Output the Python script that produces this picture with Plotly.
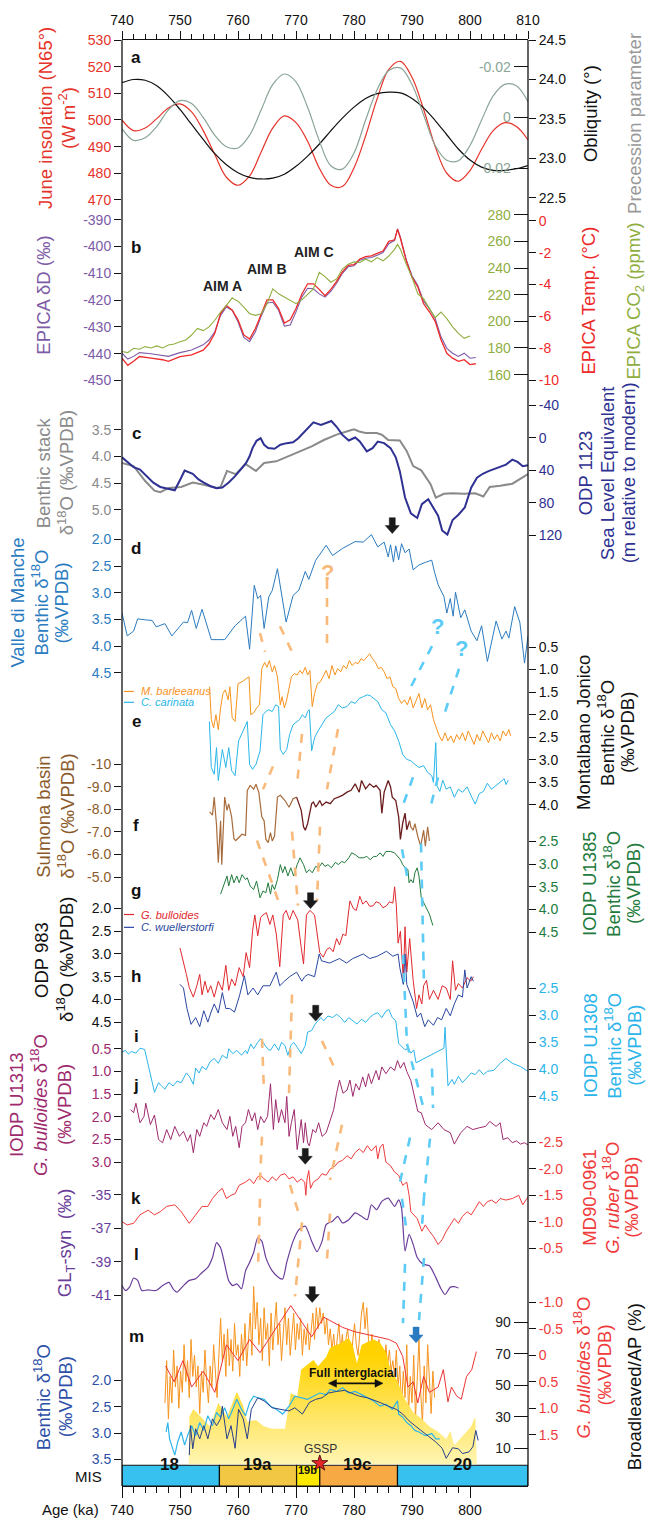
import plotly.graph_objects as go

# ---------------- data (age in ka) ----------------
# a: orbital parameters
ORB_AGE = [740, 742, 744, 746, 748, 750, 752, 754, 756, 758, 760, 762, 764, 766, 768, 770, 772, 774,
           776, 778, 780, 782, 784, 786, 788, 790, 792, 794, 796, 798, 800, 802, 804, 806, 808, 810]
INSOLATION = [500, 496, 497, 500.5, 504.5, 506, 503, 496, 487, 478.5, 475.5, 479, 488, 497, 501.5, 499, 492, 482,
              475.5, 475, 482, 494, 508, 519, 522, 516, 504, 490, 480, 477, 481, 489, 496, 499, 497.5, 492.5]
PRECESSION = [0.0044, 0.0090, 0.0080, 0.0035, -0.0030, -0.0066, -0.0055, 0.0000, 0.0070, 0.0115, 0.0120, 0.0070,
              -0.0030, -0.0130, -0.0171, -0.0140, -0.0040, 0.0090, 0.0190, 0.0203, 0.0140, 0.0010, -0.0110, -0.0185,
              -0.0195, -0.0130, -0.0010, 0.0110, 0.0168, 0.0170, 0.0110, 0.0010, -0.0085, -0.0130, -0.0125, -0.0062]
OBLIQUITY = [23.96, 24.00, 23.99, 23.92, 23.79, 23.62, 23.43, 23.24, 23.06, 22.92, 22.82, 22.76, 22.74, 22.75,
             22.80, 22.90, 23.03, 23.18, 23.35, 23.51, 23.65, 23.76, 23.82, 23.84, 23.83, 23.76, 23.64, 23.48,
             23.30, 23.12, 22.98, 22.89, 22.85, 22.85, 22.87, 22.91]

# b: EPICA (age, dD, temperature)
EPICA = [(740, -439.8, -8.6), (741, -442, -9.05), (742, -441, -8.8), (743, -439.6, -8.5), (745, -440, -8.6),
         (747, -440.8, -8.7), (748, -441, -8.8), (750, -439.6, -8.5), (752, -438.6, -8.4), (754, -436.7, -8.1),
         (755, -434.9, -7.7), (756, -431.8, -7.05), (757, -425.7, -5.8), (758, -422.6, -5.3), (759, -423.8, -5.6),
         (760, -428.1, -6.2), (761, -433.9, -7.15), (762, -435.5, -7.4), (763, -431.8, -6.75), (764, -426, -5.8),
         (765, -421.1, -4.95), (766, -420.8, -4.95), (767, -423.8, -5.5), (768, -429.7, -6.4), (769, -429.3, -6.2),
         (770, -424.4, -5.5), (771, -418.9, -4.6), (772, -415.6, -3.95), (773, -415.8, -3.95), (774, -417.7, -4.3),
         (775, -418.9, -4.7), (776, -416.8, -4.3), (777, -413.7, -3.8), (778, -410, -3.2), (779, -407.6, -2.8),
         (780, -407.2, -2.75), (781, -405.1, -2.4), (782, -404.4, -2.25), (783, -404.1, -2.2), (784, -403.3, -2.05),
         (785, -402.3, -1.9), (786, -399, -1.3), (787, -397.7, -1.2), (787.5, -393.4, -0.55), (788, -396.5, -1.1),
         (789, -404.8, -2.5), (790, -410.9, -3.55), (791, -414.6, -4.15), (792, -420.4, -5.2), (793, -423.2, -5.7),
         (794, -426.9, -6.3), (795, -433.7, -7.45), (796, -438, -8.3), (797, -439.8, -8.6), (798, -441, -8.8),
         (799, -439.8, -8.7), (800, -441.7, -9.0), (801, -441.4, -8.95)]
EPICA_CO2 = [(740, 177.3), (741, 176.5), (742, 179.8), (743, 179), (744, 181), (745, 180), (746, 181.5), (747, 180),
             (748, 182.2), (749, 183), (750, 184.7), (751, 186), (752, 189.7), (753, 194.6), (754, 193), (755, 195.8),
             (756, 200.8), (757, 207), (758, 212), (759, 217.6), (759.5, 216.1), (760, 215.1), (761, 210.7),
             (762, 205.7), (763, 204.5), (764, 205.7), (765, 213.2), (766, 224.3), (767, 220.6), (768, 218.1),
             (769, 215.6), (770, 213.2), (771, 216.1), (772, 220.6), (773, 224.3), (774, 236.7), (775, 233.5),
             (776, 229.3), (777, 231.8), (778, 239.2), (779, 242.9), (780, 244.6), (781, 244.1), (782, 246.6),
             (783, 244.6), (784, 247.8), (785, 245.4), (786, 249), (787, 254), (787.5, 257.7), (788, 254),
             (789, 242.9), (790, 233), (791, 220.6), (792, 217), (793, 209.5), (794, 202.8), (795, 207),
             (796, 202), (797, 195.8), (798, 190.9), (799, 187.2), (800, 188.9)]

# c: benthic stack and ODP 1123 sea level
STACK = [(740, 4.12), (742, 4.18), (744, 4.46), (745.6, 4.64), (746.6, 4.67), (748.1, 4.59), (750.2, 4.57),
         (752.2, 4.49), (754.1, 4.53), (756.3, 4.59), (757, 4.57), (758.1, 4.27), (759.6, 4.33), (761.3, 4.14),
         (763.1, 4.27), (764.5, 4.12), (766.6, 4.09), (768.8, 3.99), (770.8, 3.90), (772.7, 3.81), (774.8, 3.69),
         (777, 3.59), (779, 3.52), (780, 3.49), (780.9, 3.53), (782, 3.56), (783.9, 3.56), (784.8, 3.59),
         (785.9, 3.69), (787.9, 3.70), (789.1, 3.90), (790.2, 4.18), (791.6, 4.26), (793.2, 4.52), (794.1, 4.77),
         (795.5, 4.70), (797, 4.69), (798.9, 4.70), (800.9, 4.69), (802.3, 4.75), (803.4, 4.57), (805.2, 4.55),
         (807.3, 4.51), (810, 4.33)]
ODP1123 = [(740, 24), (741.1, 30.9), (742, 36.1), (743.1, 39), (744.1, 45.9), (745.4, 55.2), (746.6, 60.4),
           (748.1, 63.3), (749.1, 64.5), (750.2, 49.1), (750.8, 40.2), (752.2, 44.2), (753.2, 51.1), (754.1, 55),
           (755.2, 59.2), (756.3, 62), (757.3, 61), (758.4, 55), (759.5, 47.1), (760.6, 37.8), (761.4, 30.9),
           (762, 22.8), (762.5, 12.7), (763.2, 3.7), (763.9, 0.5), (764.5, 8.6), (765.2, 12.7), (766.3, 13.5),
           (767.3, 8.6), (768.4, 6.6), (769.5, 5.5), (770.4, 0.5), (771.5, -7.6), (772.2, -13.7), (773, -18.9),
           (774.3, -15.7), (775.2, -17.7), (776.1, -20.6), (777, -13.5), (778, -3.5), (779.1, 3.3), (780.2, -0.3),
           (781, 4.6), (782.2, 16.7), (783.2, 12.7), (784.1, 4.6), (785.2, 6.6), (786.3, 12.7), (787.2, 24),
           (787.9, 41), (788.8, 73.4), (789.8, 92.8), (790.9, 98.5), (791.7, 81.5), (792.8, 75.4), (793.7, 85.6),
           (794.5, 95.7), (795.2, 113.9), (796.1, 118.8), (797, 101), (798, 94.5), (799.1, 85.6), (800.2, 61.3),
           (801.2, 49.1), (802.2, 44.2), (803.2, 41), (804.3, 38.2), (805.3, 36.1), (806.2, 32.9), (807.3, 26.8),
           (808.2, 29.6), (809.1, 35), (810, 33.7)]

# d: Valle di Manche benthic d18O
VDM = [(740, 3.38), (740.9, 3.81), (742, 3.72), (742.7, 3.49), (744.1, 3.51), (745.2, 3.52), (745.9, 3.64),
       (747.4, 3.58), (748.6, 3.81), (750.6, 3.55), (751.3, 3.56), (752, 3.33), (752.8, 3.67), (753.8, 3.31),
       (755.4, 3.88), (757.7, 3.88), (759.5, 3.62), (761.3, 3.44), (762, 4.06), (762.8, 2.86), (763.4, 3.11),
       (763.9, 3.05), (764.5, 3.67), (765.3, 3.08), (765.9, 2.96), (766.8, 2.55), (768.3, 3.55), (769.5, 3.05),
       (770.5, 2.95), (771.6, 2.6), (772.2, 2.75), (773.4, 2.39), (775.2, 2.11), (776.3, 2.30), (778, 2.17),
       (780.2, 2.04), (781.6, 2.05), (783, 1.91), (784.1, 2.14), (785.2, 2.05), (785.9, 2.33), (786.3, 2.1),
       (786.8, 2.42), (787.2, 2.12), (787.7, 2.38), (788.2, 2.08), (788.8, 2.25), (789.5, 2.18), (790.2, 2.57),
       (791.2, 2.48), (792.3, 2.43), (793.4, 2.39), (793.9, 2.62), (794.5, 2.85), (795.5, 3.07), (796, 3.38),
       (796.6, 3.11), (797.1, 3.44), (797.5, 2.99), (798.4, 3.47), (799.1, 3.32), (800.2, 3.72), (801.2, 3.9),
       (802, 3.62), (803, 4.29), (804.5, 3.53), (805.5, 3.87), (806.2, 3.72), (806.7, 3.85), (807.7, 3.26),
       (808.6, 3.56), (809.4, 4.32), (810, 3.81)]

# e: Montalbano Jonico benthic d18O
MJ_BARLEEANUS = [(755.1, 1.38), (755.4, 2.11), (755.8, 2.29), (756.2, 2.0), (756.6, 2.33), (757.0, 1.85),
                 (757.4, 1.53), (757.8, 1.45), (758.3, 1.67), (758.6, 1.38), (759.0, 2.07), (759.5, 2.15),
                 (760.0, 1.31), (760.7, 1.27), (761.4, 1.2), (761.9, 1.16), (762.2, 2.0), (762.7, 1.96),
                 (763.2, 1.85), (763.7, 1.78), (764.1, 0.98), (764.6, 0.84), (765.0, 0.95), (765.4, 0.8),
                 (765.9, 1.05), (766.3, 0.91), (766.8, 1.16), (767.3, 1.78), (767.6, 1.6), (768.0, 1.85),
                 (768.4, 1.67), (768.9, 1.34), (769.2, 1.16), (769.7, 1.09), (770.2, 1.12), (770.7, 1.02),
                 (771.1, 1.09), (771.6, 0.95), (772.0, 1.12), (772.4, 1.02), (772.8, 1.82), (773.2, 1.53),
                 (773.7, 1.31), (774.2, 1.27), (774.7, 1.16), (775.2, 1.02), (775.7, 1.2), (776.2, 0.91),
                 (776.7, 1.12), (777.2, 0.98), (777.7, 1.05), (778.2, 0.91), (778.7, 0.98), (779.2, 0.8),
                 (779.7, 0.91), (780.2, 0.84), (780.7, 0.87), (781.2, 0.76), (781.7, 0.8), (782.2, 0.73),
                 (782.7, 0.65), (783.2, 0.76), (783.7, 0.84), (784.2, 0.98), (784.7, 0.95), (785.2, 1.05),
                 (785.7, 1.2), (786.2, 1.16), (786.7, 1.38), (787.2, 1.42), (787.7, 1.64), (788.2, 1.75),
                 (788.7, 1.67), (789.2, 1.78), (789.7, 1.6), (790.2, 1.85), (790.7, 1.67), (791.2, 1.53),
                 (791.7, 1.85), (792.2, 1.64), (792.7, 1.89), (793.2, 1.78), (793.7, 2.11), (794.2, 2.29),
                 (794.7, 2.47), (795.2, 2.58), (795.7, 2.4), (796.2, 2.58), (796.7, 2.47), (797.2, 2.62),
                 (797.7, 2.44), (798.2, 2.55), (798.7, 2.4), (799.2, 2.58), (799.7, 2.36), (800.2, 2.51),
                 (800.7, 2.66), (801.2, 2.44), (801.7, 2.58), (802.2, 2.36), (802.7, 2.51), (803.2, 2.62),
                 (803.7, 2.4), (804.2, 2.55), (804.7, 2.44), (805.2, 2.58), (805.7, 2.36), (806.2, 2.47),
                 (806.7, 2.33), (807.0, 2.47)]
MJ_CARINATA = [(755.06, 2.15), (755.4, 3.17), (755.9, 3.32), (756.3, 2.73), (756.6, 3.46), (757.3, 2.77),
               (757.9, 3.17), (758.4, 2.73), (758.9, 3.24), (759.5, 3.35), (760.1, 2.58), (760.6, 2.44),
               (761.3, 2.22), (761.6, 2.15), (762, 3.1), (762.5, 3.21), (763.1, 3.1), (763.8, 2.8), (764.3, 2.0),
               (764.8, 1.93), (765.3, 1.89), (765.9, 1.93), (766.5, 1.78), (767, 1.82), (767.3, 2.77),
               (767.8, 2.88), (768.4, 2.77), (768.9, 2.44), (769.5, 2.22), (770.1, 2.15), (770.6, 2.11),
               (771.1, 2.0), (771.6, 2.07), (772, 1.93), (772.3, 1.89), (772.7, 2.8), (773.2, 2.51),
               (773.8, 2.36), (774.5, 2.22), (775.2, 2.07), (775.9, 2.0), (776.6, 1.93), (777.3, 1.78),
               (778, 1.85), (778.8, 1.82), (779.5, 1.71), (780.2, 1.75), (780.9, 1.64), (781.6, 1.6),
               (782.3, 1.56), (782.8, 1.58), (783.4, 1.64), (784.1, 1.71), (784.8, 1.89), (785.5, 1.96),
               (786.3, 2.22), (787, 2.36), (787.7, 2.58), (788.4, 2.88), (789.1, 2.99), (789.8, 3.02),
               (790.5, 3.1), (791.2, 3.17), (792, 3.13), (792.7, 3.28), (793.4, 3.35), (793.7, 3.5),
               (794.1, 2.62), (794.3, 3.57), (794.8, 3.7), (795.3, 3.45), (795.9, 3.65), (796.6, 3.6),
               (797.3, 3.83), (798, 3.65), (798.7, 3.72), (799.5, 3.6), (800.2, 3.8), (800.9, 3.98),
               (801.6, 3.75), (802.3, 3.7), (803, 3.52), (803.7, 3.65), (804.5, 3.57), (805.2, 3.5),
               (805.9, 3.42), (806.2, 3.55), (806.6, 3.45)]

# f: Sulmona basin d18O (three sections)
SULMONA_1 = [(755.1, -7.89), (755.6, -7.75), (755.9, -8.55), (756.3, -7.3), (756.6, -5.63), (757.0, -7.5),
             (757.2, -5.55), (757.7, -8.55), (758.1, -7.96), (758.4, -8.25), (758.9, -7.67), (759.3, -6.7),
             (759.6, -6.62), (760.2, -6.77), (760.7, -6.9), (761.3, -6.85), (761.6, -8.85), (762.1, -9.07),
             (762.7, -8.9), (763.1, -9.12), (763.6, -8.75), (764.1, -7.67), (764.5, -7.5), (764.8, -6.68),
             (765.2, -6.53), (765.6, -6.97), (765.9, -6.6), (766.3, -6.82), (766.8, -8.55), (767.3, -8.63),
             (768.1, -8.4), (768.8, -8.1), (769.5, -8.48), (770.1, -8.55)]
SULMONA_2 = [(770.1, -8.55), (770.5, -8.26), (770.9, -7.96), (771.3, -7.23), (771.6, -7.08), (772.0, -7.37),
             (772.3, -7.81), (772.7, -8.26), (773.0, -8.33), (773.4, -8.11), (773.8, -8.26), (774.1, -8.4),
             (774.5, -8.18), (775.2, -8.33), (775.9, -8.26), (776.6, -8.48), (777.3, -8.55), (778.0, -8.63),
             (778.8, -8.77), (779.5, -8.85), (780.2, -9.14), (780.9, -8.77), (781.3, -9.29), (782.0, -8.92),
             (782.7, -9.14), (783.4, -8.99), (783.8, -9.07), (784.5, -8.85), (784.8, -7.83), (785.2, -8.77),
             (785.9, -9.29), (786.3, -9.0), (786.6, -8.55), (787.2, -8.4), (787.7, -7.67), (788.0, -6.67),
             (788.4, -7.4), (788.8, -7.84), (789.1, -7.1), (789.6, -7.5)]
SULMONA_3 = [(789.6, -7.5), (789.8, -7.22), (790.2, -7.08), (790.5, -7.37), (791.0, -6.8), (791.5, -6.37),
             (792.0, -7.08), (792.3, -6.37), (792.7, -7.23), (793.0, -6.6)]

# g: IODP U1385 benthic d18O
U1385 = [(757.0, 3.66), (757.7, 3.41), (758.1, 3.26), (758.4, 3.48), (758.9, 3.23), (759.3, 3.41), (759.8, 3.26),
         (760.2, 3.41), (760.7, 3.23), (761.3, 3.34), (761.6, 3.3), (762.1, 3.48), (762.7, 3.56), (763.2, 3.37),
         (763.8, 3.74), (764.3, 3.59), (764.8, 3.63), (765.2, 3.41), (765.6, 3.66), (765.9, 3.45), (766.3, 3.56),
         (766.8, 3.34), (767.3, 3.01), (767.7, 3.19), (768.1, 3.05), (768.6, 3.26), (769.1, 3.08), (769.6, 3.26),
         (770.2, 3.01), (770.7, 2.86), (771.3, 3.01), (771.8, 3.19), (772.3, 3.12), (772.8, 3.19), (773.4, 3.05),
         (773.9, 3.08), (774.5, 2.97), (775.0, 3.05), (775.5, 3.01), (776.1, 3.08), (776.8, 2.96), (777.3, 3.01),
         (777.9, 2.94), (778.4, 2.97), (779.1, 2.86), (779.6, 2.75), (780.2, 2.79), (780.9, 2.86), (781.6, 2.86),
         (782.2, 2.83), (782.8, 2.9), (783.4, 2.83), (783.9, 2.83), (784.5, 2.75), (785.0, 2.83), (785.5, 2.72),
         (786.3, 2.72), (787.0, 2.75), (787.5, 2.83), (788.0, 2.9), (788.4, 3.01), (788.8, 3.08), (789.3, 3.12),
         (789.5, 3.41), (789.8, 3.34), (790.2, 3.41), (790.5, 3.19), (790.9, 3.08), (791.2, 3.26), (791.6, 3.74),
         (792.3, 3.92), (793.0, 4.1), (793.6, 4.35)]

# h: ODP 983 d18O
ODP983_BULLOIDES = [(750.0, 2.87), (750.6, 3.16), (751.1, 3.45), (751.6, 3.74), (752.3, 3.95), (752.9, 3.7),
                    (753.4, 3.45), (753.8, 3.9), (754.3, 3.6), (754.8, 3.85), (755.3, 3.7), (755.9, 3.95),
                    (756.6, 3.6), (757.3, 3.8), (757.9, 3.25), (758.4, 3.8), (758.9, 3.55), (759.5, 3.7),
                    (760.2, 3.3), (760.9, 3.5), (761.4, 2.97), (762.0, 3.3), (762.5, 2.5), (762.9, 2.14),
                    (763.4, 2.6), (763.9, 2.2), (764.3, 2.14), (764.9, 2.09), (765.5, 2.35), (766.0, 2.14),
                    (766.6, 2.56), (767.2, 3.28), (767.8, 2.14), (768.3, 2.04), (768.9, 2.25), (769.5, 2.04),
                    (770.3, 2.25), (770.9, 2.86), (771.3, 3.22), (771.8, 2.14), (772.4, 2.04), (773.2, 2.14),
                    (773.6, 2.56), (774.1, 2.97), (774.7, 3.07), (775.3, 2.9), (775.8, 2.86), (776.4, 2.95),
                    (777.0, 2.66), (777.5, 2.8), (778.1, 2.56), (778.6, 2.6), (779.0, 2.14), (779.3, 1.83),
                    (779.9, 2.0), (780.4, 2.04), (781.0, 1.73), (781.5, 1.9), (782.1, 1.83), (782.7, 1.95),
                    (783.3, 1.94), (783.8, 1.85), (784.4, 1.88), (785.0, 1.98), (785.6, 1.94), (786.1, 1.85),
                    (786.7, 1.88), (787.0, 1.52), (787.3, 1.94), (787.6, 2.76), (788.0, 2.5), (788.5, 3.58),
                    (788.8, 2.4), (789.1, 3.4), (789.6, 2.66), (790.2, 3.58), (790.8, 4.2), (791.2, 3.9),
                    (791.7, 4.1), (792.0, 3.7), (792.5, 3.58), (793.0, 4.0), (793.7, 3.8), (794.5, 4.0),
                    (795.2, 3.7), (795.9, 3.75), (796.6, 4.0), (797.0, 3.15), (797.5, 3.8), (798.0, 3.65),
                    (798.7, 3.75), (799.5, 3.52), (800.1, 3.6), (800.6, 3.5)]
ODP983_WUELLERSTORFI = [(750.0, 3.67), (750.6, 3.75), (751.2, 4.2), (751.9, 4.55), (752.7, 4.4), (753.4, 4.6),
                        (754.1, 4.25), (754.8, 4.5), (755.3, 4.3), (755.9, 4.1), (756.6, 4.3), (757.3, 3.85),
                        (757.9, 4.2), (758.55, 4.2), (759.4, 4.28), (760.3, 3.9), (761.1, 3.48), (761.7, 3.9),
                        (762.6, 3.75), (763.4, 3.9), (764.3, 3.7), (765.5, 3.7), (766.6, 3.4), (767.2, 3.7),
                        (768.0, 3.6), (768.9, 3.5), (770.1, 3.4), (771.0, 3.6), (771.5, 3.5), (772.1, 3.45),
                        (773.2, 3.5), (774.0, 3.0), (774.4, 3.15), (775.8, 3.2), (777.5, 3.1), (778.7, 3.2),
                        (779.8, 3.1), (781.6, 3.0), (782.7, 3.1), (784.0, 3.05), (785.6, 2.94), (786.7, 3.05),
                        (787.6, 3.0), (787.9, 3.3), (788.5, 3.67), (788.8, 3.0), (789.1, 3.67), (789.6, 3.85),
                        (790.2, 4.05), (790.9, 4.39), (791.5, 4.3), (792.2, 4.6), (792.8, 4.45), (793.7, 4.57),
                        (794.4, 4.4), (795.1, 4.45), (795.9, 4.2), (796.6, 4.36), (797.3, 4.1), (798.0, 3.9),
                        (798.7, 3.95), (799.1, 3.35), (799.5, 3.75), (800.2, 3.5), (800.6, 3.6)]

# i: IODP U1308 benthic d18O
U1308 = [(740.0, 3.68), (740.6, 3.65), (741.1, 3.72), (741.6, 3.67), (742.4, 3.70), (743.1, 3.61), (743.9, 3.63),
         (744.5, 3.94), (745.2, 4.24), (745.6, 4.43), (746.3, 4.25), (746.8, 4.31), (747.4, 4.37), (748.1, 4.25),
         (748.8, 4.31), (749.5, 4.22), (750.2, 4.25), (751.1, 4.07), (751.6, 4.13), (752.3, 4.28), (752.7, 3.98),
         (753.3, 4.07), (753.8, 3.95), (754.5, 4.01), (755.2, 3.86), (755.9, 3.8), (756.6, 3.89), (757.3, 3.74),
         (758.1, 3.8), (758.4, 3.62), (759.1, 3.71), (759.8, 3.65), (760.6, 3.74), (761.3, 3.65), (761.6, 3.71),
         (762.2, 3.53), (762.7, 3.62), (763.4, 3.5), (763.9, 3.43), (764.5, 3.53), (765.1, 3.62), (765.6, 3.65),
         (766.3, 3.53), (767.0, 3.65), (767.5, 3.5), (768.1, 3.56), (768.6, 3.74), (769.1, 3.56), (769.6, 3.5),
         (770.2, 3.59), (770.9, 3.71), (771.6, 3.56), (772.0, 3.31), (772.7, 3.28), (773.3, 3.16), (773.8, 3.1),
         (774.3, 3.04), (774.8, 3.1), (775.5, 3.01), (776.3, 3.04), (777.0, 2.98), (777.7, 3.04), (778.4, 3.13),
         (779.1, 3.04), (779.8, 3.1), (780.5, 3.16), (781.3, 3.07), (782.0, 3.13), (782.7, 3.04), (783.4, 2.98),
         (784.1, 2.95), (784.8, 3.04), (785.5, 2.92), (786.0, 2.89), (786.6, 3.04), (787.2, 3.1), (787.7, 3.52),
         (788.2, 3.58), (788.8, 3.64), (789.3, 3.61), (789.8, 3.7), (790.3, 3.64), (790.7, 3.88), (795.5, 3.61),
         (795.7, 3.22), (796.2, 4.31), (796.9, 4.19), (797.3, 4.28), (798.0, 4.13), (798.7, 4.25), (799.5, 4.16),
         (800.2, 4.07), (800.9, 4.1), (801.6, 4.01), (802.3, 4.1), (803.0, 4.04), (804.1, 4.02), (805.2, 3.89),
         (806.2, 3.8), (807.3, 3.89), (808.7, 3.95), (810.0, 4.04)]

# j: IODP U1313 G. bulloides d18O
U1313 = [(741.5, 1.84), (742.0, 1.91), (742.4, 1.7), (743.1, 2.13), (743.8, 1.99), (744.1, 1.7), (744.9, 2.17),
         (745.6, 1.96), (746.3, 2.5), (747.0, 2.57), (747.7, 2.28), (748.4, 2.5), (749.1, 2.21), (749.9, 2.43),
         (750.6, 2.32), (751.3, 2.54), (751.8, 2.39), (752.3, 2.79), (752.9, 2.28), (753.4, 2.43), (754.1, 2.13),
         (754.6, 2.21), (755.3, 1.95), (755.9, 2.06), (756.6, 1.84), (757.3, 2.13), (758.1, 2.28), (758.6, 1.99),
         (759.1, 2.43), (759.6, 2.21), (760.2, 2.68), (760.7, 2.21), (761.3, 2.13), (761.8, 1.84), (762.4, 2.09),
         (762.9, 1.91), (763.4, 2.28), (763.9, 1.99), (764.5, 2.13), (765.1, 1.99), (765.6, 1.27), (766.1, 2.28),
         (766.5, 1.62), (767.0, 2.13), (767.5, 1.84), (768.1, 2.13), (768.4, 1.55), (768.8, 2.43), (769.2, 2.13),
         (769.7, 1.84), (770.2, 2.72), (770.6, 2.28), (770.9, 2.06), (771.3, 2.57), (771.6, 2.13), (772.0, 2.57),
         (772.3, 2.64), (772.9, 2.28), (773.4, 2.35), (773.9, 2.13), (774.5, 2.43), (775.2, 2.35), (775.8, 2.13),
         (776.5, 1.84), (777.0, 1.48), (777.5, 1.19), (778.1, 1.48), (778.8, 1.41), (779.3, 1.19), (779.8, 1.55),
         (780.3, 1.27), (780.9, 1.41), (781.5, 1.12), (782.0, 1.34), (782.5, 1.05), (783.0, 1.27), (783.8, 0.98),
         (784.3, 1.19), (784.8, 0.9), (785.5, 1.05), (786.3, 0.9), (787.0, 0.98), (787.5, 0.76), (788.0, 0.93),
         (788.6, 0.8), (789.1, 1.0), (789.8, 1.2), (790.5, 1.62), (791.0, 1.88), (791.6, 1.91), (792.3, 2.17),
         (793.4, 2.28), (794.5, 2.13), (795.5, 2.28), (796.6, 2.35), (797.3, 2.6), (798.4, 2.35), (799.5, 2.21),
         (800.5, 2.28), (801.6, 2.24), (802.7, 2.21), (803.4, 2.1), (804.5, 2.21), (805.2, 2.13), (805.7, 2.5),
         (806.5, 2.46), (807.3, 2.57), (808.0, 2.53), (808.7, 2.6), (809.4, 2.57), (810.0, 2.62)]

# k: MD90-0961 G. ruber d18O
MD90 = [(740.0, -1.0), (740.9, -0.94), (742.0, -0.97), (743.1, -1.13), (744.5, -1.22), (745.6, -1.13),
        (746.6, -1.19), (747.7, -1.29), (749.1, -1.32), (750.2, -1.19), (751.6, -0.97), (752.7, -1.13),
        (753.8, -1.29), (754.8, -1.29), (755.6, -1.44), (756.6, -1.57), (757.3, -1.63), (758.0, -1.44),
        (758.8, -1.5), (759.5, -1.53), (760.2, -1.69), (761.3, -1.75), (762.0, -1.81), (762.7, -1.72),
        (763.4, -1.85), (763.9, -1.88), (764.5, -1.81), (765.2, -1.75), (765.9, -1.85), (766.6, -1.78),
        (767.3, -1.88), (768.1, -1.91), (768.8, -1.81), (769.5, -1.85), (770.2, -1.75), (770.9, -1.81),
        (771.5, -1.75), (771.7, -1.5), (771.9, -1.81), (772.2, -1.97), (772.5, -1.63), (773.0, -1.75),
        (773.8, -1.81), (774.5, -1.91), (775.2, -1.88), (775.9, -2.0), (776.6, -2.04), (777.3, -2.13),
        (778.0, -2.16), (778.8, -2.25), (779.5, -2.19), (780.2, -2.31), (780.9, -2.38), (781.6, -2.31),
        (782.3, -2.44), (783.0, -2.34), (783.8, -2.44), (784.1, -2.19), (784.5, -2.41), (785.0, -2.47),
        (785.5, -2.13), (786.3, -2.06), (787.0, -1.94), (787.7, -1.88), (788.4, -1.69), (789.1, -1.75),
        (789.5, -1.5), (789.8, -1.19), (790.9, -1.06), (791.7, -0.82), (792.3, -0.94), (793.0, -0.82),
        (793.7, -0.72), (794.5, -0.57), (795.2, -0.66), (795.9, -0.82), (796.6, -0.94), (797.3, -1.06),
        (798.0, -0.97), (798.7, -1.1), (799.5, -1.19), (800.2, -1.13), (800.9, -1.25), (801.6, -1.38),
        (802.3, -1.29), (803.0, -1.38), (803.7, -1.41), (804.5, -1.35), (805.2, -1.44), (806.2, -1.41),
        (807.3, -1.44), (808.4, -1.5), (809.1, -1.32), (810.0, -1.47)]

# l: GL_T-syn
GLT = [(740.0, -40.41), (740.6, -40.7), (741.3, -40.5), (742.0, -39.96), (742.7, -40.1), (743.4, -40.7),
       (744.5, -40.67), (745.9, -40.7), (747.0, -40.41), (748.1, -40.22), (748.8, -40.6), (749.5, -40.8),
       (750.6, -40.41), (751.6, -40.1), (752.7, -40.0), (753.8, -39.63), (754.8, -39.33), (755.6, -38.74),
       (756.3, -37.85), (757.0, -38.15), (757.7, -39.13), (758.4, -40.12), (759.1, -40.41), (759.8, -40.31),
       (760.6, -40.6), (761.3, -39.53), (762.0, -39.03), (762.7, -38.44), (763.4, -37.56), (764.1, -37.76),
       (764.8, -38.74), (765.9, -39.53), (767.0, -39.92), (767.7, -40.02), (768.4, -39.03), (769.5, -37.76),
       (770.5, -37.07), (771.6, -36.87), (772.7, -37.76), (773.6, -38.39), (774.5, -37.76), (775.2, -36.77),
       (776.3, -36.57), (777.2, -36.28), (778.0, -36.67), (779.1, -36.48), (780.2, -36.08), (781.3, -36.28),
       (782.3, -36.48), (783.0, -35.59), (783.9, -35.89), (784.8, -35.39), (785.9, -35.2), (787.0, -35.69),
       (787.7, -35.3), (788.2, -35.79), (788.8, -38.35), (789.5, -37.36), (790.2, -37.95), (790.9, -38.74),
       (791.9, -39.13), (793.0, -39.23), (794.1, -39.92), (795.0, -40.6), (795.7, -40.94), (796.6, -40.5),
       (797.3, -40.47), (798.0, -40.55)]

# m: G. bulloides d18O (orange and red records), Broadleaved/AP, benthic d18O
M_BULLOIDES_A = [(747.4, 0.9), (747.7, 0.1), (748.0, 1.2), (748.3, 0.4), (748.6, 0.9), (748.9, -0.1), (749.2, 0.6),
                 (749.5, 0.2), (749.8, 1.0), (750.1, 0.3), (750.4, 0.7), (750.7, -0.2), (751.0, 0.5), (751.3, 0.1),
                 (751.6, 0.8), (751.9, -0.3), (752.2, 0.4), (752.5, 0.0), (752.8, 0.6), (753.1, 0.2), (753.4, 1.1),
                 (753.7, 0.3), (754.0, 0.7), (754.3, -0.1), (754.6, 0.5), (754.9, 0.9), (755.2, 0.2), (755.5, 0.6),
                 (755.8, -0.2), (756.1, 0.3), (756.4, 0.8), (756.7, 0.0), (757.0, -0.7), (757.3, 0.1), (757.6, -0.4),
                 (757.9, 0.4), (758.2, -0.5), (758.5, 0.2), (758.8, -0.3), (759.1, 0.3), (759.4, -0.6), (759.7, 0.0),
                 (760.0, -0.2), (760.3, 0.4), (760.6, -0.4), (760.9, 0.1), (761.2, -0.6), (761.5, 0.2), (761.8, -0.3),
                 (762.1, -0.8), (762.4, 0.0), (762.7, -1.3), (763.0, -0.5), (763.3, -1.0), (763.6, -0.2),
                 (763.9, -0.7), (764.2, 0.1), (764.5, -0.9), (764.8, -0.3), (765.1, -0.6), (765.4, 0.2), (765.7, -0.8),
                 (766.0, -0.1), (766.3, -0.5), (766.6, -1.0), (766.9, -0.2), (767.2, -0.6), (767.5, 0.1),
                 (767.8, -0.5), (768.1, -0.9), (768.4, -0.2), (768.7, -0.7), (769.0, 0.0), (769.3, -0.4),
                 (769.6, -0.8), (769.9, -0.1), (770.2, -0.6), (770.5, -0.3), (770.8, -0.7), (771.1, 0.0),
                 (771.4, -0.5), (771.7, -0.2), (772.0, -0.6), (772.3, -0.1), (772.6, -0.4), (772.9, -0.8),
                 (773.2, -0.3), (773.5, -0.9), (773.8, -0.5), (774.1, -0.9), (774.4, -0.6), (774.7, -0.8),
                 (775.0, -0.4), (775.3, -0.7), (775.6, -0.2), (775.9, -0.5), (776.2, -0.1), (776.5, -0.4),
                 (776.8, 0.0), (777.1, -0.3), (777.4, -0.6), (777.7, -0.1), (778.0, -0.4), (778.3, 0.1),
                 (778.6, -0.3), (778.9, -0.5), (779.2, -0.1), (779.5, 0.2), (779.8, -0.3), (780.1, -0.6),
                 (780.4, -0.2), (780.7, 0.0), (781.0, -0.4), (781.3, -0.8), (781.6, -1.0), (781.9, -0.5),
                 (782.2, -0.9), (782.5, -0.3), (782.8, 0.0), (783.1, -0.4), (783.4, 0.1), (783.7, -0.2), (784.0, 0.2),
                 (784.3, -0.3), (784.6, 0.1), (784.9, -0.1), (785.2, 0.3), (785.5, -0.2), (785.8, 0.2), (786.1, -0.1),
                 (786.4, 0.3), (786.7, 0.1), (787.0, 0.4), (787.3, -0.1), (787.6, 0.6), (787.9, 0.2), (788.2, 1.0),
                 (788.5, 0.3), (788.8, 0.8), (789.1, -0.2), (789.4, 1.1), (789.7, 0.4), (790.0, 0.9), (790.3, 0.0),
                 (790.6, 1.2), (790.9, 0.5), (791.2, -0.3), (791.5, 0.7), (791.8, 1.3), (792.1, 0.2), (792.4, 0.9),
                 (792.7, -0.2), (793.0, 0.6), (793.3, 1.1), (793.6, 0.3), (793.9, 0.8)]
M_BULLOIDES_B = [(747.5, 0.2), (749.0, 0.5), (750.5, 0.1), (752.0, 0.6), (754.0, 0.3), (756.0, 0.7), (758.0, -0.2),
                 (760.0, 0.1), (762.0, -0.3), (763.8, -0.05), (769.1, -0.94), (772.7, -0.35), (774.8, -0.72),
                 (778.0, -0.53), (780.0, -0.45), (782.0, -0.4), (784.0, -0.35), (786.0, -0.3), (787.3, -0.23),
                 (788.4, 0.02), (789.3, 0.6), (790.2, 0.5), (791.0, 0.9), (792.0, 0.4), (793.0, 0.7), (794.5, 0.6),
                 (795.4, 0.27), (796.2, 0.88), (796.8, 0.6), (797.7, 0.77), (798.5, 0.83), (799.4, 0.4),
                 (800.3, 0.27), (801.1, -0.07)]
BROADLEAVED_AP = [(751.5, 0), (751.6, 30), (752.3, 35), (753.8, 29), (755.2, 24), (756.6, 39), (758.1, 30),
                  (759.8, 46), (760.9, 37), (761.6, 27), (763.1, 28), (764.5, 24), (765.9, 22.5), (768.1, 22.5),
                  (769.1, 45), (770.2, 43), (770.9, 60), (773.0, 66), (773.8, 62), (775.2, 68), (775.9, 74),
                  (777.3, 76), (779.1, 80), (779.8, 75), (780.5, 64), (781.3, 75.6), (782.3, 77.5), (783.4, 79),
                  (784.5, 77), (785.5, 71), (786.3, 60), (787.3, 54), (788.8, 41), (790.2, 33), (791.6, 29),
                  (793.0, 24), (794.5, 20.6), (795.9, 16), (796.6, 21), (797.3, 12), (798.7, 18), (800.2, 24),
                  (800.9, 30), (801.2, 0)]
M_BENTHIC_DARK = [(751.6, 3.42), (751.8, 2.86), (752.2, 3.3), (752.7, 2.92), (753.4, 3.11), (754.1, 2.86),
                  (754.8, 3.11), (755.6, 2.73), (756.3, 2.86), (757.0, 2.73), (757.3, 2.49), (758.1, 3.11),
                  (758.8, 2.86), (759.5, 3.29), (760.1, 2.55), (760.9, 2.73), (761.6, 3.11), (762.3, 2.55),
                  (763.4, 2.33), (764.5, 2.39), (765.9, 2.52), (767.3, 2.55), (768.8, 2.58), (769.8, 2.52),
                  (771.1, 2.64), (772.3, 2.42), (773.4, 2.36), (774.5, 2.33), (775.6, 2.24), (777.0, 2.21),
                  (778.4, 2.19), (779.5, 2.24), (780.9, 2.3), (782.3, 2.33), (783.4, 2.37), (784.5, 2.42),
                  (785.9, 2.49), (787.3, 2.55), (788.4, 2.64), (789.5, 2.77), (790.5, 2.86), (791.6, 2.95),
                  (793.0, 3.08), (794.1, 3.17), (795.2, 3.29), (795.9, 3.48), (797.0, 3.28), (798.0, 3.3),
                  (798.7, 3.39), (799.8, 3.36), (800.5, 3.26), (801.0, 2.95), (801.4, 3.14)]
M_BENTHIC_LIGHT = [(747.6, 2.98), (747.9, 2.8), (748.2, 3.11), (748.6, 3.26), (749.1, 3.42), (749.6, 3.17),
                   (750.2, 2.98), (750.8, 3.23), (751.3, 3.05), (752.0, 2.86), (752.7, 3.05), (753.4, 2.8),
                   (754.1, 2.95), (754.8, 2.67), (755.6, 2.86), (756.3, 2.61), (757.0, 2.7), (757.7, 2.52),
                   (758.4, 2.73), (759.1, 2.55), (759.8, 2.36), (760.6, 2.55), (761.3, 2.67), (762.0, 2.42),
                   (762.7, 2.3), (763.4, 2.33), (764.5, 2.36), (765.6, 2.49), (766.6, 2.55), (767.7, 2.64),
                   (768.8, 2.49), (769.8, 2.3), (770.9, 2.33), (772.0, 2.36), (773.0, 2.3), (774.1, 2.24),
                   (775.2, 2.27), (775.9, 2.17), (777.0, 2.21), (778.0, 2.14), (779.1, 2.24), (780.2, 2.21),
                   (781.3, 2.27), (782.3, 2.33), (783.4, 2.39), (784.5, 2.49), (785.5, 2.45), (786.6, 2.55),
                   (787.5, 2.39), (787.7, 2.64), (788.4, 2.7), (789.1, 2.8), (789.8, 2.86), (790.5, 2.95),
                   (791.2, 2.98), (792.3, 3.05), (793.4, 3.01), (794.1, 3.11), (794.8, 3.11)]

# marine isotope stages
MIS_BOUNDS = [740, 756.8, 770.1, 774.1, 787.5, 810]
MIS_LABELS = ["18", "19a", "19b", "19c", "20"]
GSSP_AGE = 774.1

# tick labels
TK_INSOL = [470, 480, 490, 500, 510, 520, 530]
TK_OBLIQ = [22.5, 23.0, 23.5, 24.0, 24.5]
TK_PREC = [-0.02, 0, 0.02]
TK_DD = [-450, -440, -430, -420, -410, -400, -390]
TK_TEMP = [-10, -8, -6, -4, -2, 0]
TK_CO2 = [160, 180, 200, 220, 240, 260, 280]
TK_STACK = [3.5, 4.0, 4.5, 5.0]
TK_SL = [-40, 0, 40, 80, 120]
TK_VDM = [2.0, 2.5, 3.0, 3.5, 4.0, 4.5]
TK_MJ = [0.5, 1.0, 1.5, 2.0, 2.5, 3.0, 3.5, 4.0]
TK_SUL = [-10, -9, -8, -7, -6, -5]
TK_SUL_TEXT = ["-10", "-9.0", "-8.0", "-7.0", "-6.0", "-5.0"]
TK_U1385 = [2.5, 3.0, 3.5, 4.0, 4.5]
TK_ODP983 = [2.0, 2.5, 3.0, 3.5, 4.0, 4.5]
TK_U1308 = [2.5, 3.0, 3.5, 4.0, 4.5]
TK_U1313 = [0.5, 1.0, 1.5, 2.0, 2.5, 3.0]
TK_MD90 = [-2.5, -2.0, -1.5, -1.0, -0.5]
TK_GLT = [-41, -39, -37, -35]
TK_GB = [-1.0, -0.5, 0, 0.5, 1.0, 1.5]
TK_GB_TEXT = ["-1.0", "-0.5", "0", "0.5", "1.0", "1.5"]
TK_AP = [10, 30, 50, 70, 90]
TK_BENTH = [2.0, 2.5, 3.0, 3.5]

# ---------------- layout helpers ----------------
W, H = 648, 1530
L, R, T, B = 122, 528, 33, 1498
FONT = "Liberation Sans, Arial, Helvetica, sans-serif"


def px_x(px):
    return (px - L) / (R - L)


def px_y(py):
    return (B - py) / (B - T)


def age_px(age):
    return L + (age - 740) / 70 * (R - L)


def axis_range(v1, p1, v2, p2):
    s = (v2 - v1) / (p2 - p1)
    return [v1 + (B - p1) * s, v1 + (T - p1) * s]


def fmt(vals, nd=1):
    return [f"{v:.{nd}f}" for v in vals]


# side, (v1, px1, v2, px2), ticks, labels, colour, inside
AXES = [
    ("left", (530, 33, 470, 195), TK_INSOL, [str(v) for v in TK_INSOL], "#e5332a", False),
    ("right", (24.5, 33, 22.5, 193), TK_OBLIQ, fmt(TK_OBLIQ), "#111111", False),
    ("right", (-0.02, 60, 0.02, 163), TK_PREC, ["-0.02", "0", "0.02"], "#8aa596", True),
    ("left", (-390, 215, -450, 378), TK_DD, [str(v) for v in TK_DD], "#7d5ba6", False),
    ("right", (0, 216, -10, 378), TK_TEMP, [str(v) for v in TK_TEMP], "#ee2a2a", False),
    ("right", (280, 210, 160, 372), TK_CO2, [str(v) for v in TK_CO2], "#8fae3f", True),
    ("left", (3.5, 428, 5.0, 509), TK_STACK, fmt(TK_STACK), "#8a8a8a", False),
    ("right", (-40, 403, 120, 535), TK_SL, [str(v) for v in TK_SL], "#2e3192", False),
    ("left", (2.0, 539, 4.5, 674), TK_VDM, fmt(TK_VDM), "#2b7bbf", False),
    ("right", (0.5, 648, 4.0, 808), TK_MJ, fmt(TK_MJ), "#111111", False),
    ("left", (-10, 767, -5, 881), TK_SUL, TK_SUL_TEXT, "#8b5a2b", False),
    ("right", (2.5, 845, 4.5, 937), TK_U1385, fmt(TK_U1385), "#217a3c", False),
    ("left", (2.0, 913, 4.5, 1028), TK_ODP983, fmt(TK_ODP983), "#111111", False),
    ("right", (2.5, 994, 4.5, 1103), TK_U1308, fmt(TK_U1308), "#2bb4ea", False),
    ("left", (0.5, 1055, 3.0, 1170), TK_U1313, fmt(TK_U1313), "#9e2a6e", False),
    ("right", (-2.5, 1150, -0.5, 1257), TK_MD90, fmt(TK_MD90), "#ef3b3b", False),
    ("left", (-35, 1203, -41, 1305), TK_GLT, [str(v) for v in TK_GLT], "#6a3d9a", False),
    ("right", (-1.0, 1312, 1.5, 1446), TK_GB, TK_GB_TEXT, "#ef3b3b", False),
    ("right", (90, 1332, 10, 1460), TK_AP, [str(v) for v in TK_AP], "#222222", True),
    ("left", (2.0, 1391, 3.5, 1471), TK_BENTH, fmt(TK_BENTH), "#2d4fa8", False),
]

fig = go.Figure()
layout_axes = {}
for i, (side, anchors, tv, tt, col, inside) in enumerate(AXES):
    key = "yaxis" if i == 0 else f"yaxis{i + 1}"
    ax = dict(range=axis_range(*anchors), domain=[0, 1], side=side, anchor="x",
              showgrid=False, zeroline=False, showline=False,
              tickmode="array", tickvals=tv, ticktext=tt,
              ticks="inside" if inside else "outside", ticklen=14 if inside else 7,
              tickwidth=1, tickcolor="#111111",
              tickfont=dict(color=col, size=14, family=FONT))
    if inside:
        ax["ticklabelposition"] = "inside"
        ax["ticklabelstandoff"] = 3
    if i > 0:
        ax["overlaying"] = "y"
    layout_axes[key] = ax
# hidden pixel-row axis for the GSSP star
layout_axes["yaxis21"] = dict(range=[B, T], domain=[0, 1], overlaying="y", visible=False, anchor="x")


def yname(i):
    return "y" if i == 1 else f"y{i}"


def line(pairs, axis, color, width=1.0, shape="linear", smoothing=None):
    xs = [p[0] for p in pairs]
    ys = [p[1] for p in pairs]
    ln = dict(color=color, width=width, shape=shape)
    if smoothing is not None:
        ln["smoothing"] = smoothing
    fig.add_trace(go.Scatter(x=xs, y=ys, yaxis=yname(axis), mode="lines", line=ln,
                             showlegend=False, hoverinfo="skip"))


# a
line(list(zip(ORB_AGE, OBLIQUITY)), 2, "#111111", 1.2, "spline")
line(list(zip(ORB_AGE, PRECESSION)), 3, "#8aa596", 1.2, "spline")
line(list(zip(ORB_AGE, INSOLATION)), 1, "#e5332a", 1.2, "spline")
# b
line(EPICA_CO2, 6, "#8fae3f", 1.1)
line([(a, d) for a, d, t in EPICA], 4, "#7d5ba6", 1.1)
line([(a, t) for a, d, t in EPICA], 5, "#ee2a2a", 1.3)
# c
line(STACK, 7, "#8a8a8a", 2.0)
line(ODP1123, 8, "#2e3192", 2.0)
# d
line(VDM, 9, "#2b7bbf", 1.0)
# e
line(MJ_BARLEEANUS, 10, "#f7931e", 1.0)
line(MJ_CARINATA, 10, "#29b6e8", 1.0)
# f
line(SULMONA_1, 11, "#a86c3c", 1.2)
line(SULMONA_2, 11, "#6b1c1c", 1.3)
line(SULMONA_3, 11, "#a86c3c", 1.2)
# g
line(U1385, 12, "#217a3c", 1.0)
# h
line(ODP983_BULLOIDES, 13, "#e0282e", 1.0)
line(ODP983_WUELLERSTORFI, 13, "#2a47a0", 1.0)
# i
line(U1308, 14, "#2bb4ea", 1.0)
# j
line(U1313, 15, "#9e2a6e", 1.0)
# k
line(MD90, 16, "#ef3b3b", 1.0)
# l
line(GLT, 17, "#6a3d9a", 1.2, "spline", 0.6)
# m
fig.add_trace(go.Scatter(
    x=[p[0] for p in BROADLEAVED_AP], y=[p[1] for p in BROADLEAVED_AP], yaxis="y19",
    mode="lines", line=dict(width=0), fill="tozeroy",
    fillgradient=dict(type="vertical", colorscale=[[0, "#fffbd2"], [1, "#ffd200"]], start=0, stop=80),
    showlegend=False, hoverinfo="skip"))
line(M_BULLOIDES_A, 18, "#f7941d", 1.0)
line(M_BULLOIDES_B, 18, "#ee3333", 1.0)
line(M_BENTHIC_LIGHT, 20, "#2fb5ea", 1.2)
line(M_BENTHIC_DARK, 20, "#27408b", 1.0)

# GSSP star
fig.add_trace(go.Scatter(x=[GSSP_AGE], y=[1475], yaxis="y21", mode="markers",
                         marker=dict(symbol="star", size=12, color="#e8262a", line=dict(color="#5a1010", width=1)),
                         showlegend=False, hoverinfo="skip"))
# dummy trace so the top axis is drawn
fig.add_trace(go.Scatter(x=[740, 810], y=[None, None], xaxis="x2", yaxis="y21", mode="lines",
                         showlegend=False, hoverinfo="skip"))

shapes = []
# MIS bar
MIS_COLORS = ["#36c1ef", "#f2c744", "#fde800", "#f7a944", "#36c1ef"]
for i, lab in enumerate(MIS_LABELS):
    shapes.append(dict(type="rect", xref="x", yref="paper", x0=MIS_BOUNDS[i], x1=MIS_BOUNDS[i + 1],
                       y0=px_y(1498), y1=px_y(1477), fillcolor=MIS_COLORS[i], line=dict(color="#111111", width=1.2),
                       layer="below"))
# frame verticals
for xp in (0, 1):
    shapes.append(dict(type="line", xref="paper", yref="paper", x0=xp, x1=xp, y0=0, y1=1,
                       line=dict(color="#111111", width=1.3)))

ORANGE_SEGS = [((260, 634), (265, 653)), ((273, 769), (263, 792)), ((257, 844), (280, 910)),
               ((262, 1045), (264, 1100)), ((262, 1144), (260, 1188)), ((260, 1207), (258, 1278)),
               ((280, 627), (293, 655)), ((302, 736), (297, 788)), ((292, 835), (298, 910)),
               ((292, 1000), (289, 1100)), ((290, 1193), (300, 1226)), ((302, 1231), (295, 1306)),
               ((327, 580), (327, 651)), ((338, 731), (327, 792)), ((320, 830), (317, 905)),
               ((322, 1047), (337, 1080)), ((342, 1132), (330, 1188)), ((330, 1222), (327, 1269))]
BLUE_SEGS = [((432, 647), (409, 692)), ((413, 780), (403, 808)), ((402, 853), (408, 885)),
             ((403, 960), (407, 1050)), ((407, 1050), (423, 1113)), ((410, 1145), (400, 1190)),
             ((402, 1207), (407, 1242)), ((405, 1273), (403, 1333)),
             ((459, 670), (444, 717)), ((438, 780), (430, 812)), ((421, 847), (424, 990)),
             ((432, 1075), (433, 1115)), ((430, 1146), (424, 1205)), ((424, 1205), (422, 1235)),
             ((424, 1267), (419, 1330))]
for segs, col in ((ORANGE_SEGS, "#f9b97a"), (BLUE_SEGS, "#5ccbf5")):
    for (xa, ya), (xb, yb) in segs:
        shapes.append(dict(type="line", xref="paper", yref="paper", x0=px_x(xa), y0=px_y(ya),
                           x1=px_x(xb), y1=px_y(yb), line=dict(color=col, width=2.6, dash="dash")))


def poly(points, color):
    path = "M " + " L ".join(f"{px_x(a):.5f},{px_y(b):.5f}" for a, b in points) + " Z"
    shapes.append(dict(type="path", xref="paper", yref="paper", path=path,
                       fillcolor=color, line=dict(color=color, width=0.5)))


# block arrows pointing down (age, tip row)
for age, tip, col in ((786.6, 533, "#1a1a1a"), (772.5, 913, "#1a1a1a"), (773.4, 1027, "#1a1a1a"),
                      (771.6, 1172, "#1a1a1a"), (772.8, 1312, "#1a1a1a"), (790.7, 1353, "#2a7ac0")):
    x = age_px(age)
    poly([(x - 3, tip - 16), (x + 3, tip - 16), (x + 3, tip - 8), (x + 7, tip - 8), (x, tip),
          (x - 7, tip - 8), (x - 3, tip - 8)], col)

# full interglacial double arrow
xa, xb, yy = age_px(775.6), age_px(785.0), 1394
shapes.append(dict(type="line", xref="paper", yref="paper", x0=px_x(xa + 4), x1=px_x(xb - 4),
                   y0=px_y(yy), y1=px_y(yy), line=dict(color="#111111", width=1.6)))
poly([(xa, yy), (xa + 8, yy - 4), (xa + 8, yy + 4)], "#111111")
poly([(xb, yy), (xb - 8, yy - 4), (xb - 8, yy + 4)], "#111111")

ann = []


def text(t, px, py, color="#111111", size=14, angle=0, bold=False, italic=False, xanchor="center"):
    if bold:
        t = f"<b>{t}</b>"
    if italic:
        t = f"<i>{t}</i>"
    ann.append(dict(text=t, x=px_x(px), y=px_y(py), xref="paper", yref="paper", showarrow=False,
                    textangle=angle, xanchor=xanchor, yanchor="middle",
                    font=dict(color=color, size=size, family=FONT)))


def vtitle(t, px, py, color, size=18.5):
    text(t, px, py, color, size, angle=-90)


D18 = "δ<sup>18</sup>O"
# left titles
vtitle("June insolation (N65°)", 46, 112, "#e5332a")
vtitle("(W m<sup>-2</sup>)", 67, 112, "#e5332a")
vtitle("EPICA δD (‰)", 44, 292, "#7d5ba6")
vtitle("Benthic stack", 43, 472, "#8a8a8a")
vtitle(f"{D18} (‰VPDB)", 66, 472, "#8a8a8a")
vtitle("Valle di Manche", 18, 603, "#2b7bbf")
vtitle(f"Benthic {D18}", 40, 603, "#2b7bbf")
vtitle("(‰VPDB)", 62, 603, "#2b7bbf")
vtitle("Sulmona basin", 44, 820, "#8b5a2b")
vtitle(f"{D18} (‰VPDB)", 66, 820, "#8b5a2b")
vtitle("ODP 983", 42, 965, "#111111")
vtitle(f"{D18} (‰VPDB)", 65, 965, "#111111")
vtitle("IODP U1313", 16, 1112, "#9e2a6e")
vtitle(f"<i>G. bulloides</i> {D18}", 39, 1112, "#9e2a6e")
vtitle("(‰VPDB)", 64, 1112, "#9e2a6e")
vtitle("GL<sub>T</sub>-syn  (‰)", 66, 1252, "#6a3d9a")
vtitle(f"Benthic {D18}", 42, 1408, "#2d4fa8")
vtitle("(‰VPDB)", 65, 1408, "#2d4fa8")
# right titles
vtitle("Obliquity (°)", 590, 108, "#111111")
vtitle("Precession parameter", 635, 118, "#999999")
vtitle("EPICA Temp. (°C)", 589, 297, "#ee2a2a")
vtitle("EPICA CO<sub>2</sub> (ppmv)", 635, 298, "#8fae3f")
vtitle("ODP 1123", 585, 472, "#2e3192")
vtitle("Sea Level Equivalent", 607, 472, "#2e3192")
vtitle("(m relative to modern)", 628, 472, "#2e3192")
vtitle("Montalbano Jonico", 584, 735, "#111111")
vtitle(f"Benthic {D18}", 606, 735, "#111111")
vtitle("(‰VPDB)", 628, 735, "#111111")
vtitle("IODP U1385", 590, 888, "#217a3c")
vtitle(f"Benthic {D18}", 612, 888, "#217a3c")
vtitle("(‰VPDB)", 634, 888, "#217a3c")
vtitle("IODP U1308", 591, 1052, "#2bb4ea")
vtitle(f"Benthic {D18}", 613, 1052, "#2bb4ea")
vtitle("(‰VPDB)", 635, 1052, "#2bb4ea")
vtitle("MD90-0961", 590, 1206, "#ef3b3b")
vtitle(f"<i>G. ruber</i> {D18}", 611, 1206, "#ef3b3b")
vtitle("(‰VPDB)", 632, 1206, "#ef3b3b")
vtitle(f"<i>G. bulloides</i> {D18}", 582, 1378, "#ef3b3b")
vtitle("(‰VPDB)", 605, 1376, "#ef3b3b")
vtitle("Broadleaved/AP (%)", 634, 1398, "#111111")

# panel letters
for lt, py in zip("abcdefghijklm", [51, 243, 432, 548, 723, 829, 895, 982, 1043, 1092, 1207, 1263, 1347]):
    text(lt, 136, py, "#111111", 17, bold=True)

# legends
for lab, col, py in (("M. barleeanus", "#f7931e", 693), ("C. carinata", "#29b6e8", 704),
                     ("G. bulloides", "#e0282e", 919), ("C. wuellerstorfi", "#2a47a0", 932)):
    shapes.append(dict(type="line", xref="paper", yref="paper", x0=px_x(124), x1=px_x(134),
                       y0=px_y(py), y1=px_y(py), line=dict(color=col, width=1.2)))
    text(lab, 139, py, col, 11, italic=True, xanchor="left")

# AIM labels
text("AIM A", 222, 282, "#222222", 14, bold=True)
text("AIM B", 267, 265, "#222222", 14, bold=True)
text("AIM C", 314, 248, "#222222", 14, bold=True)

# question marks
text("?", 327, 572, "#f9b97a", 22, bold=True)
text("?", 437, 627, "#5ccbf5", 22, bold=True)
text("?", 461, 650, "#5ccbf5", 22, bold=True)

text("Full interglacial", 353, 1384, "#111111", 12, bold=True)
text("GSSP", 320, 1461, "#333333", 12)

# MIS labels
MIS_TEXT_AGE = [748.2, 763.4, 772.0, 780.6, 798.7]
for lab, age in zip(MIS_LABELS, MIS_TEXT_AGE):
    ann.append(dict(text=f"<b>{lab}</b>", x=age, y=px_y(1490 if lab == "19b" else 1488), xref="x", yref="paper",
                    showarrow=False, font=dict(size=11 if lab == "19b" else 17, color="#111111", family=FONT)))
text("MIS", 88, 1488, "#111111", 15)
text("Age (ka)", 70, 1522, "#111111", 15)

fig.update_layout(
    width=W, height=H, margin=dict(l=L, r=W - R, t=T, b=H - B),
    paper_bgcolor="white", plot_bgcolor="white", showlegend=False,
    font=dict(family=FONT, color="#111111"),
    xaxis=dict(range=[740, 810], domain=[0, 1], anchor="y", side="bottom", showgrid=False, zeroline=False,
               showline=True, linecolor="#111111", linewidth=1.3, ticks="outside", ticklen=11, tickwidth=1,
               tickcolor="#111111", dtick=10, tick0=740, tickfont=dict(size=14, family=FONT),
               minor=dict(dtick=2, ticks="outside", ticklen=6, tickcolor="#111111")),
    xaxis2=dict(range=[740, 810], overlaying="x", anchor="y", side="top", showgrid=False, zeroline=False,
                showline=True, linecolor="#111111", linewidth=1.3, ticks="outside", ticklen=8, tickwidth=1,
                tickcolor="#111111", dtick=10, tick0=740, tickfont=dict(size=14, family=FONT),
                minor=dict(dtick=2, ticks="outside", ticklen=5, tickcolor="#111111")),
    shapes=shapes, annotations=ann,
    **layout_axes,
)

# the page body has a default 8px margin; remove it so the figure sits at the window origin
fig.write_html("out.html", config={"displayModeBar": False},
               post_script="document.body.style.margin='0';document.body.style.overflow='hidden';")
